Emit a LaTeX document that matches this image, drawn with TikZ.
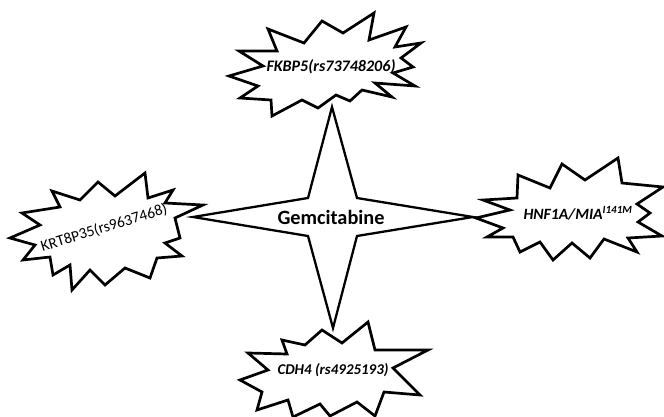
\documentclass[tikz,border=0pt]{standalone}
\usepackage{fontspec}
\usepackage{graphicx}
\setmainfont{Carlito}
\begin{document}
\begin{tikzpicture}[x=1pt,y=-1pt,
  outline/.style={draw=black, line width=2.7pt, line join=miter, miter limit=6},
  staredge/.style={draw=black, line width=2.3pt, line join=miter, miter limit=10},
  genelbl/.style={inner sep=0pt, font=\bfseries\itshape\fontsize{16}{18}\selectfont},
  druglbl/.style={inner sep=0pt, font=\bfseries\fontsize{19.5}{22}\selectfont}]
\useasboundingbox[fill=white] (0,0) rectangle (664,417);

% central four-pointed star
\draw[staredge] (332,107) -- (357,198) -- (473,217) -- (357,236) -- (333,328)
  -- (308,236) -- (193,217) -- (308,198) -- cycle;

% top burst
\draw[outline] (268,29) -- (304,43) -- (322,21) -- (343,33) -- (374,13) -- (369,40)
  -- (406,27) -- (395,47) -- (421,43) -- (401,58) -- (413,67) -- (393,73)
  -- (415,86) -- (375,83) -- (392,97) -- (362,90) -- (350,101) -- (336,95)
  -- (318,108) -- (302,100) -- (272,116) -- (271,100) -- (240,98) -- (258,86)
  -- (229,76) -- (263,66) -- (239,51) -- (277,51) -- cycle;

% left burst
\draw[outline] (52,191) -- (80,200) -- (98,182) -- (115,196) -- (145,173)
  -- (148,198) -- (173,190) -- (165,203) -- (203,205) -- (175,218) -- (180,238)
  -- (165,243) -- (182,256) -- (157,258) -- (150,278) -- (125,268) -- (105,285)
  -- (90,270) -- (72,290) -- (70,265) -- (53,275) -- (50,257) -- (23,260)
  -- (35,245) -- (10,238) -- (40,225) -- (22,213) -- (60,207) -- cycle;

% right burst
\draw[outline] (518,175) -- (550,188) -- (562,164) -- (585,180) -- (618,158)
  -- (622,183) -- (663,187) -- (637,204) -- (650,213) -- (638,222) -- (662,236)
  -- (628,238) -- (637,252) -- (604,239) -- (590,258) -- (572,243) -- (553,260)
  -- (540,242) -- (520,252) -- (513,237) -- (487,237) -- (503,228) -- (476,218)
  -- (510,210) -- (483,200) -- (517,198) -- cycle;

% bottom burst
\draw[outline] (282,340) -- (305,345) -- (322,330) -- (342,343) -- (368,322)
  -- (375,350) -- (428,350) -- (393,368) -- (420,395) -- (384,392) -- (375,416)
  -- (357,402) -- (330,416) -- (320,404) -- (293,417) -- (288,400) -- (257,410)
  -- (262,392) -- (240,380) -- (268,370) -- (248,353) -- (287,354) -- cycle;

% labels
\node[druglbl] (gem) at (331,217) {\resizebox{107pt}{!}{Gemcitabine}};
\node[genelbl] (fkbp) at (331,67) {\resizebox{129pt}{!}{FKBP5(rs73748206)}};
\node[inner sep=0pt, font=\fontsize{15.5}{18}\selectfont, rotate=17] (krt) at (104,228) {\resizebox{131pt}{!}{KRT8P35(rs9637468)}};
\node[genelbl] (hnf) at (578,213) {\resizebox{109pt}{!}{HNF1A/MIA\textsuperscript{I141M}}};
\node[genelbl, font=\bfseries\itshape\fontsize{15}{18}\selectfont] (cdh) at (333,370) {\resizebox{111pt}{!}{CDH4 (rs4925193)}};
\end{tikzpicture}
\end{document}
